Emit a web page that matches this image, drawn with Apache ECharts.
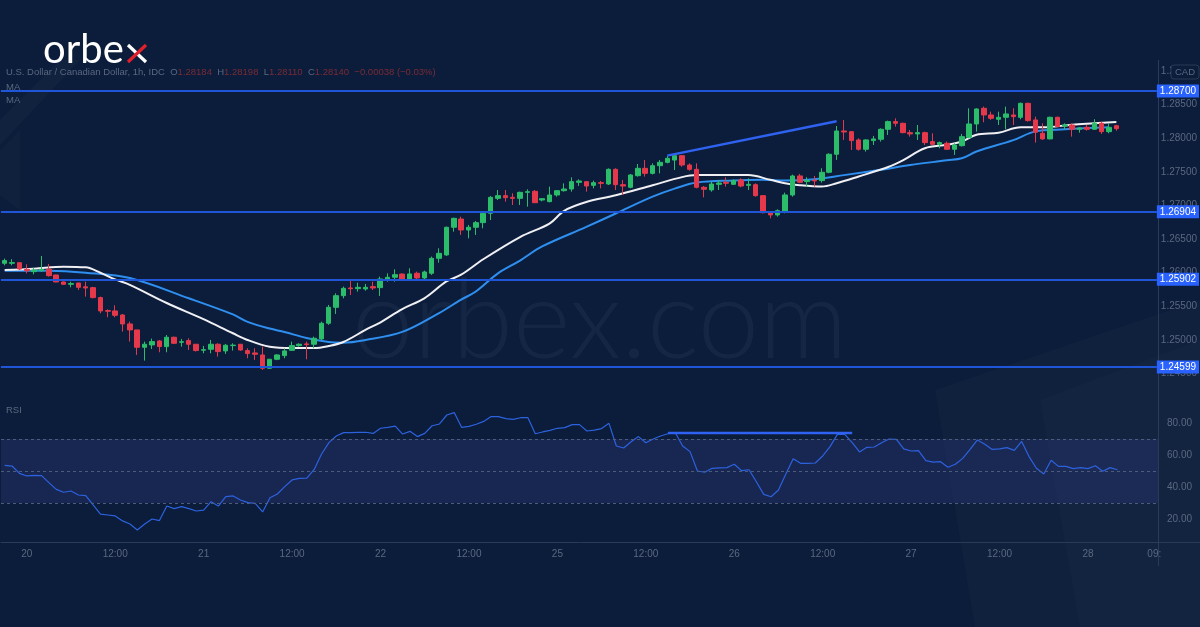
<!DOCTYPE html>
<html><head><meta charset="utf-8">
<script src="https://cdn.jsdelivr.net/npm/echarts@6/dist/echarts.min.js"></script>
<style>html,body{margin:0;padding:0;background:#0b1d3a;}#c{width:1200px;height:627px;}</style>
</head><body><div id="c"></div>
<script>
// ---------- data ----------
const sessions = [ // day label, first hour, last hour (hourly bars)
  ['19',21,23],['20',0,23],['21',0,23],['22',0,23],['25',0,23],['26',0,23],['27',0,23],['28',0,9]
];
const categories = [];
sessions.forEach(([d,a,b]) => { for (let h=a; h<=b; h++) categories.push(d + ' ' + String(h).padStart(2,'0') + ':00'); });

// [open, high, low, close]
const candles = [
[1.26140,1.26210,1.26110,1.26180],[1.26140,1.26200,1.26110,1.26150],[1.26149,1.26154,1.26040,1.26055],[1.26050,1.26125,1.25990,1.26030],
[1.26016,1.26075,1.25976,1.26040],[1.26030,1.26248,1.26016,1.26050],[1.26050,1.26130,1.25941,1.25956],[1.25966,1.25970,1.25860,1.25862],
[1.25862,1.25870,1.25820,1.25828],[1.25828,1.25867,1.25783,1.25838],[1.25847,1.25850,1.25743,1.25783],[1.25790,1.25867,1.25645,1.25773],
[1.25778,1.25790,1.25620,1.25630],[1.25630,1.25645,1.25397,1.25432],[1.25437,1.25456,1.25338,1.25427],[1.25432,1.25516,1.25338,1.25367],
[1.25372,1.25387,1.25125,1.25239],[1.25239,1.25273,1.24976,1.25150],[1.25150,1.25150,1.24778,1.24892],[1.24892,1.24976,1.24694,1.24937],
[1.24927,1.25021,1.24867,1.24976],[1.24986,1.25001,1.24818,1.24902],[1.24902,1.25075,1.24818,1.25041],[1.25041,1.25050,1.24940,1.24951],
[1.24966,1.25016,1.24902,1.24975],[1.24991,1.25026,1.24852,1.24937],[1.24937,1.24940,1.24830,1.24843],[1.24848,1.24912,1.24803,1.24857],
[1.24862,1.25001,1.24803,1.24937],[1.24937,1.24951,1.24753,1.24828],[1.24838,1.24942,1.24793,1.24922],[1.24917,1.24951,1.24843,1.24924],
[1.24937,1.24940,1.24840,1.24852],[1.24843,1.24877,1.24729,1.24798],[1.24808,1.24877,1.24704,1.24788],[1.24778,1.24902,1.24556,1.24580],
[1.24580,1.24720,1.24570,1.24714],[1.24714,1.24790,1.24700,1.24778],[1.24768,1.24877,1.24729,1.24838],[1.24847,1.24976,1.24838,1.24917],
[1.24917,1.24950,1.24900,1.24937],[1.24942,1.24976,1.24714,1.24932],[1.24937,1.25050,1.24877,1.25026],[1.25016,1.25273,1.25001,1.25249],
[1.25249,1.25521,1.25224,1.25486],[1.25486,1.25694,1.25387,1.25659],[1.25659,1.25793,1.25620,1.25768],[1.25773,1.25892,1.25669,1.25763],
[1.25763,1.25852,1.25719,1.25783],[1.25758,1.25833,1.25733,1.25783],[1.25793,1.25867,1.25743,1.25773],[1.25778,1.25941,1.25654,1.25907],
[1.25902,1.25991,1.25867,1.25932],[1.25932,1.26050,1.25867,1.25971],[1.25980,1.25990,1.25890,1.25900],[1.25892,1.26066,1.25890,1.25982],
[1.25992,1.26016,1.25892,1.25922],[1.25922,1.26031,1.25883,1.26011],[1.25992,1.26239,1.25967,1.26214],[1.26214,1.26363,1.26150,1.26288],
[1.26264,1.26685,1.26249,1.26675],[1.26675,1.26818,1.26610,1.26808],[1.26798,1.26833,1.26561,1.26635],[1.26635,1.26710,1.26511,1.26675],
[1.26675,1.26769,1.26561,1.26744],[1.26744,1.26907,1.26660,1.26883],[1.26883,1.27140,1.26784,1.27120],[1.27105,1.27229,1.27080,1.27145],
[1.27145,1.27229,1.27056,1.27115],[1.27120,1.27180,1.27006,1.27105],[1.27105,1.27204,1.27006,1.27194],[1.27194,1.27239,1.26981,1.27204],
[1.27209,1.27229,1.27035,1.27040],[1.27080,1.27110,1.27060,1.27100],[1.27056,1.27279,1.27046,1.27155],[1.27155,1.27229,1.27130,1.27219],
[1.27219,1.27328,1.27204,1.27244],[1.27244,1.27417,1.27204,1.27353],[1.27343,1.27387,1.27290,1.27363],[1.27353,1.27360,1.27204,1.27288],
[1.27298,1.27368,1.27254,1.27338],[1.27338,1.27363,1.27254,1.27328],[1.27318,1.27551,1.27303,1.27536],[1.27536,1.27551,1.27229,1.27308],
[1.27308,1.27378,1.27155,1.27288],[1.27269,1.27467,1.27254,1.27452],[1.27442,1.27615,1.27427,1.27551],[1.27551,1.27674,1.27427,1.27476],
[1.27476,1.27625,1.27460,1.27590],[1.27590,1.27674,1.27476,1.27640],[1.27640,1.27734,1.27625,1.27699],[1.27674,1.27749,1.27526,1.27739],
[1.27739,1.27749,1.27575,1.27600],[1.27600,1.27625,1.27516,1.27536],[1.27536,1.27625,1.27254,1.27269],[1.27269,1.27288,1.27120,1.27240],
[1.27230,1.27353,1.27204,1.27318],[1.27313,1.27378,1.27229,1.27333],[1.27343,1.27417,1.27279,1.27328],[1.27313,1.27387,1.27303,1.27368],
[1.27378,1.27402,1.27269,1.27288],[1.27298,1.27402,1.27229,1.27313],[1.27308,1.27328,1.27130,1.27145],[1.27145,1.27150,1.26883,1.26892],
[1.26897,1.26907,1.26808,1.26858],[1.26858,1.26942,1.26833,1.26922],[1.26917,1.27190,1.26883,1.27155],[1.27155,1.27457,1.27130,1.27437],
[1.27438,1.27468,1.27330,1.27344],[1.27354,1.27418,1.27279,1.27369],[1.27374,1.27438,1.27279,1.27364],[1.27369,1.27552,1.27339,1.27492],
[1.27492,1.27775,1.27477,1.27760],[1.27760,1.28180,1.27676,1.28106],[1.28106,1.28270,1.27973,1.28091],[1.28096,1.28106,1.27824,1.27963],
[1.27973,1.27997,1.27814,1.27834],[1.27834,1.27983,1.27799,1.27973],[1.27963,1.28032,1.27898,1.27988],[1.27983,1.28146,1.27948,1.28131],
[1.28131,1.28260,1.28047,1.28245],[1.28245,1.28294,1.28171,1.28220],[1.28220,1.28230,1.28072,1.28081],[1.28081,1.28121,1.28022,1.28062],
[1.28062,1.28195,1.27973,1.28081],[1.28081,1.28096,1.27898,1.27933],[1.27948,1.28072,1.27898,1.27908],[1.27908,1.27948,1.27849,1.27933],
[1.27923,1.27948,1.27824,1.27834],[1.27834,1.27923,1.27750,1.27898],[1.27888,1.28062,1.27874,1.28022],[1.28012,1.28443,1.27997,1.28210],
[1.28210,1.28443,1.28096,1.28433],[1.28443,1.28468,1.28235,1.28344],[1.28344,1.28393,1.28270,1.28294],[1.28279,1.28393,1.28195,1.28309],
[1.28309,1.28468,1.28131,1.28359],[1.28344,1.28443,1.28195,1.28319],[1.28309,1.28527,1.28280,1.28517],[1.28517,1.28527,1.28245,1.28260],
[1.28270,1.28319,1.27933,1.28086],[1.28072,1.28220,1.27973,1.27988],[1.27988,1.28319,1.27983,1.28309],[1.28309,1.28319,1.28166,1.28171],
[1.28180,1.28220,1.28131,1.28195],[1.28195,1.28220,1.28022,1.28131],[1.28131,1.28160,1.28081,1.28151],[1.28161,1.28195,1.28111,1.28131],
[1.28131,1.28280,1.28121,1.28220],[1.28220,1.28245,1.28062,1.28096],[1.28096,1.28220,1.28072,1.28160],[1.28184,1.28198,1.28110,1.28140]
];

// moving averages: [bar index, value]
const maFast = [[0,1.2604],[4,1.2606],[8,1.2609],[11,1.2608],[13,1.2600],[15,1.2590],[17,1.2582],[22,1.2555],[27,1.2531],[31,1.2510],[33,1.2500],[36,1.2490],[39,1.2488],[42,1.2488],[44,1.2491],[46,1.2497],[49,1.2515],[51,1.2526],[54,1.2546],[57,1.2562],[60,1.2587],[62,1.2597],[65,1.2620],[70,1.2653],[74,1.2673],[76,1.2692],[79,1.2705],[83,1.2715],[88,1.2730],[92,1.2742],[94,1.2745],[101,1.2745],[104,1.2738],[106,1.2733],[108,1.2730],[111,1.2728],[113,1.2733],[116,1.2743],[120,1.2757],[122,1.2767],[125,1.2785],[128,1.2790],[130,1.2795],[132,1.2805],[135,1.2808],[138,1.2816],[141,1.2816],[145,1.2820],[148,1.2822],[151,1.2824]];
const maSlow = [[0,1.2603],[6,1.2603],[11,1.2600],[17,1.2592],[25,1.2562],[31,1.2538],[33,1.2527],[36,1.2517],[38,1.2512],[41,1.2503],[44,1.2497],[46,1.2496],[49,1.2500],[54,1.2512],[59,1.2540],[62,1.2560],[64,1.2572],[67,1.2599],[70,1.2618],[73,1.2639],[79,1.2668],[83,1.2688],[88,1.2713],[91,1.2725],[94,1.2734],[99,1.2737],[103,1.2738],[106,1.2737],[110,1.2739],[114,1.2745],[119,1.2753],[123,1.2760],[128,1.2767],[130,1.2770],[132,1.2780],[137,1.2797],[140,1.2810],[144,1.2813],[150,1.2816]];

const levels = [1.28700, 1.26904, 1.25902, 1.24599];
const priceTrend = [[90,1.2774],[113,1.2825]];
const rsi = [53.5,53.1,48.5,46.9,47.3,47.1,42.7,38.5,36.7,37.5,35.0,34.6,28.8,23.1,22.5,21.9,18.8,16.9,13.1,16.9,20.0,19.0,28.1,26.5,27.7,26.5,25.0,25.6,30.8,28.1,34.0,34.4,31.9,30.2,29.8,24.4,33.3,35.6,40.2,44.4,45.4,45.6,51.0,60.6,67.7,71.9,74.0,74.0,74.2,74.2,73.5,76.7,77.3,78.1,73.1,74.8,71.5,73.5,78.3,79.4,85.0,86.5,77.3,77.9,79.2,81.0,84.0,84.0,82.7,82.3,83.3,83.3,73.3,74.4,75.4,76.7,77.1,79.0,79.0,75.0,75.6,
76.5,79.8,65.6,64.4,68.3,71.5,67.7,70.0,71.9,73.3,73.9,65.6,62.1,50.0,49.2,51.7,51.9,52.1,54.2,50.2,50.8,43.3,35.4,33.9,38.1,48.1,57.7,54.8,54.8,55.0,59.4,65.2,72.9,72.9,67.7,61.9,64.8,65.0,67.7,70.0,69.8,63.8,62.5,62.7,56.5,55.6,55.8,52.3,54.2,57.9,63.5,69.4,66.7,63.5,63.8,64.6,62.9,68.5,59.0,51.7,48.1,56.7,52.9,52.9,51.5,52.1,51.5,53.3,49.8,52.1,50.8];
const rsiTrend = [[90,73.7],[115,73.7]];
const priceTicks = [1.245,1.25,1.255,1.26,1.265,1.27,1.275,1.28,1.285,1.29];
const rsiTicks = [20,40,60,80];
const rsiBands = [30,50,70];

// ---------- chart ----------
const BG = '#0b1d3a', GRAY = '#5b6880', UP = '#2bbd6a', DOWN = '#e5394b';
const FONT = 'Liberation Sans';
const chart = echarts.init(document.getElementById('c'), null, {renderer:'canvas'});

const candleData = candles.map(r => [r[0], r[3], r[2], r[1]]);

chart.setOption({
  backgroundColor: BG,
  animation: false,
  grid: [
    {left:1, width:1157, top:63, height:327},
    {left:1, width:1157, top:392, height:150}
  ],
  xAxis: [
    {type:'category', gridIndex:0, data:categories, boundaryGap:true, axisLine:{show:false}, axisTick:{show:false}, axisLabel:{show:false}, splitLine:{show:false}},
    {type:'category', gridIndex:1, data:categories, boundaryGap:true,
     axisLine:{show:true, lineStyle:{color:'#2b3b57', width:1}}, axisTick:{show:false}, splitLine:{show:false},
     axisLabel:{color:GRAY, fontSize:10, fontFamily:'Liberation Sans Narrow, '+FONT, margin:7, hideOverlap:false,
       interval:(i, v) => { const h = v.split(' ')[1]; return h === '00:00' || h === '12:00' || i === categories.length-1; },
       formatter:(v, i) => { const [d,h] = v.split(' '); if (i === categories.length-1) return h.slice(0,3); return h === '00:00' ? d : h; }}}
  ],
  yAxis: [
    {type:'value', gridIndex:0, position:'right', min:1.242572, max:1.29116,
     axisLine:{show:false}, axisTick:{show:false}, splitLine:{show:false},
     axisLabel:{customValues:priceTicks, formatter:v=>v.toFixed(5), color:GRAY, fontSize:10, fontFamily:FONT, margin:4}},
    {type:'value', gridIndex:1, position:'right', min:5.625, max:99.375,
     axisLine:{show:false}, axisTick:{show:false}, splitLine:{show:false},
     axisLabel:{customValues:rsiTicks, formatter:v=>v.toFixed(2), color:GRAY, fontSize:10, fontFamily:FONT, margin:9}}
  ],
  series: [
    {type:'candlestick', xAxisIndex:0, yAxisIndex:0, data:candleData, barWidth:5, z:3,
     itemStyle:{color:UP, color0:DOWN, borderColor:UP, borderColor0:DOWN, borderWidth:1},
     markLine:{silent:true, symbol:['none','none'], animation:false, precision:5,
       lineStyle:{color:'#1f56d8', width:2, type:'solid'},
       label:{show:true, position:'end', distance:0, formatter:p=>Number(p.value).toFixed(5), color:'#ffffff', backgroundColor:'#2962ff',
              padding:[2,3,1,3], fontSize:10, fontFamily:FONT},
       data: levels.map(v => ({yAxis:v}))}},
    {type:'line', xAxisIndex:0, yAxisIndex:0, data:maSlow, smooth:0.35, showSymbol:false, z:2,
     lineStyle:{color:'#2f8ff0', width:2}},
    {type:'line', xAxisIndex:0, yAxisIndex:0, data:maFast, smooth:0.35, showSymbol:false, z:2,
     lineStyle:{color:'#f0f0f4', width:2}},
    {type:'line', xAxisIndex:0, yAxisIndex:0, data:priceTrend, showSymbol:false, z:4,
     lineStyle:{color:'#2f62f0', width:2.5}},
    {type:'line', xAxisIndex:1, yAxisIndex:1, data:rsi, showSymbol:false, z:3,
     lineStyle:{color:'#2d62de', width:1.2},
     markArea:{silent:true, itemStyle:{color:'rgba(48,58,128,0.35)'}, data:[[{yAxis:30},{yAxis:70}]]},
     markLine:{silent:true, symbol:['none','none'], label:{show:false}, precision:2,
       lineStyle:{color:'#4d5c7a', width:1, type:[3,3]}, data: rsiBands.map(v => ({yAxis:v}))}},
    {type:'line', xAxisIndex:1, yAxisIndex:1, data:rsiTrend, showSymbol:false, z:4,
     lineStyle:{color:'#2f62f0', width:2.5}}
  ],
  graphic: [
    // faint background decorations
    {type:'polygon', silent:true, z:-10, shape:{points:[[0,120],[60,60],[80,60],[0,145]]}, style:{fill:'rgba(255,255,255,0.025)'}},
    {type:'polygon', silent:true, z:-10, shape:{points:[[0,150],[20,130],[20,210],[0,195]]}, style:{fill:'rgba(255,255,255,0.02)'}},
    {type:'polygon', silent:true, z:-10, shape:{points:[[935,390],[1200,300],[1200,627],[975,627]]}, style:{fill:'rgba(255,255,255,0.018)'}},
    {type:'polygon', silent:true, z:-10, shape:{points:[[1040,400],[1200,340],[1200,627],[1080,627]]}, style:{fill:'rgba(255,255,255,0.015)'}},
    // watermark
    {type:'text', silent:true, z:-5, left:352, top:268, style:{text:'orbex.com', font:'300 110px Lato', fill:'rgba(150,170,210,0.07)'}},
    // logo
    {type:'text', silent:true, z:20, left:43, top:30, style:{text:'orbe', font:'400 40px Lato', fill:'#ffffff'}},
    {type:'line', silent:true, z:20, shape:{x1:128,y1:45,x2:146,y2:62}, style:{stroke:'#ffffff', lineWidth:3.2}},
    {type:'line', silent:true, z:21, shape:{x1:128,y1:62,x2:146,y2:45}, style:{stroke:'#e2202c', lineWidth:3.2}},
    // header
    {type:'text', silent:true, z:20, left:6, top:67, style:{rich:{g:{fill:GRAY,font:'9.5px '+FONT}, r:{fill:'#7c2b36',font:'9.5px '+FONT}},
      text:'{g|U.S. Dollar / Canadian Dollar, 1h, IDC  O}{r|1.28184}{g|  H}{r|1.28198}{g|  L}{r|1.28110}{g|  C}{r|1.28140}{r|  −0.00038 (−0.03%)}'}},
    {type:'text', silent:true, z:20, left:6, top:82, style:{text:'MA', font:'9.5px '+FONT, fill:GRAY}},
    {type:'text', silent:true, z:1, left:6, top:95, style:{text:'MA', font:'9.5px '+FONT, fill:GRAY}},
    {type:'text', silent:true, z:20, left:6, top:405, style:{text:'RSI', font:'9.5px '+FONT, fill:GRAY}},
    // axis borders
    {type:'line', silent:true, z:1, shape:{x1:1158.5,y1:60,x2:1158.5,y2:566}, style:{stroke:'#2b3b57', lineWidth:1}},
    {type:'line', silent:true, z:1, shape:{x1:1158,y1:542.5,x2:1200,y2:542.5}, style:{stroke:'#2b3b57', lineWidth:1}},
    // currency tag
    {type:'rect', silent:true, z:30, shape:{x:1171,y:65,width:28,height:14,r:3}, style:{fill:BG, stroke:'#2b3b57', lineWidth:1}},
    {type:'text', silent:true, z:31, left:1175, top:67, style:{text:'CAD', font:'9.5px '+FONT, fill:GRAY}}
  ]
});
</script></body></html>
